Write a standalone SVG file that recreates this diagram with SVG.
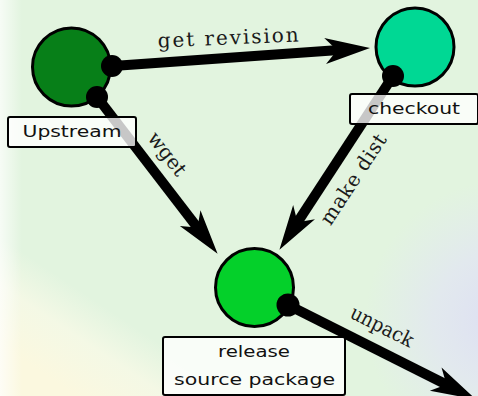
<svg xmlns="http://www.w3.org/2000/svg" width="478" height="396" viewBox="0 0 478 396">
  <defs>
    <linearGradient id="leftEdge" x1="0" y1="0" x2="1" y2="0">
      <stop offset="0" stop-color="#ffffff" stop-opacity="0.7"/>
      <stop offset="1" stop-color="#ffffff" stop-opacity="0"/>
    </linearGradient>
    <linearGradient id="yellow" gradientUnits="userSpaceOnUse" x1="45" y1="375" x2="95" y2="300">
      <stop offset="0" stop-color="#fbf8df" stop-opacity="1"/>
      <stop offset="0.55" stop-color="#f7f9e6" stop-opacity="0.85"/>
      <stop offset="1" stop-color="#f6f9e8" stop-opacity="0"/>
    </linearGradient>
    <radialGradient id="lavender" gradientUnits="userSpaceOnUse" cx="505" cy="320" r="140">
      <stop offset="0" stop-color="#dcdef3" stop-opacity="1"/>
      <stop offset="0.5" stop-color="#e2e5f3" stop-opacity="0.75"/>
      <stop offset="1" stop-color="#e3e7f3" stop-opacity="0"/>
    </radialGradient>
    <marker id="arrow" markerUnits="userSpaceOnUse" orient="auto" viewBox="-20 -20 60 40" markerWidth="60" markerHeight="40" refX="0" refY="0" overflow="visible">
      <path d="M31,0 L-14,-13 L-2,0 L-14,13 Z" fill="#000"/>
    </marker>
    <style>
      .edge { fill: none; stroke: #000; stroke-width: 10; marker-end: url(#arrow); }
      .dot { fill: #000; }
      .node { stroke: #000; stroke-width: 3; }
      .box { fill: #ffffff; fill-opacity: 0.78; stroke: #000; stroke-width: 2; }
      .lbl { font-family: "DejaVu Sans", "Liberation Sans", sans-serif; font-size: 16px; fill: #111; text-anchor: middle; }
      .elbl { font-family: "DejaVu Serif", "Liberation Serif", serif; font-size: 20px; fill: #1a1a1a; text-anchor: middle; }
    </style>
  </defs>

  <!-- background -->
  <rect x="0" y="0" width="478" height="396" fill="#e2f4df"/>
  <rect x="0" y="0" width="478" height="396" fill="url(#yellow)"/>
  <rect x="0" y="0" width="478" height="396" fill="url(#lavender)"/>
  <rect x="0" y="0" width="22" height="396" fill="url(#leftEdge)"/>

  <!-- connectors -->
  <g id="connectors">
    <path class="edge" d="M113,66 L339.1,50.1"/>
    <path class="edge" d="M97,97 L198.7,229.2"/>
    <path class="edge" d="M393,76 L296.4,223.9"/>
    <path class="edge" d="M288,305 L448.2,385.5"/>
    <text class="elbl" transform="translate(228.5,44.5) rotate(-2.5)" textLength="141" lengthAdjust="spacing">get revision</text>
    <text class="elbl" transform="translate(162,158) rotate(52.4)">wget</text>
    <text class="elbl" transform="translate(359,183) rotate(-56.8)" textLength="104" lengthAdjust="spacing">make dist</text>
    <text class="elbl" transform="translate(379,332.5) rotate(26.7)" textLength="68" lengthAdjust="spacingAndGlyphs">unpack</text>
  </g>

  <!-- nodes -->
  <g id="upstream">
    <circle class="node" cx="71.5" cy="67" r="39" fill="#077f18"/>
    <rect class="box" x="8" y="117" width="128" height="30" rx="2"/>
    <text class="lbl" x="72" y="137" textLength="99" lengthAdjust="spacingAndGlyphs">Upstream</text>
  </g>
  <g id="checkout">
    <circle class="node" cx="415" cy="47" r="39" fill="#00d894"/>
    <rect class="box" x="350" y="94" width="128" height="30" rx="2"/>
    <text class="lbl" x="414" y="114" textLength="92" lengthAdjust="spacingAndGlyphs">checkout</text>
  </g>
  <g id="release">
    <circle class="node" cx="254.5" cy="287.5" r="39" fill="#04d02a"/>
    <rect class="box" x="163" y="337" width="182" height="58" rx="2"/>
    <text class="lbl" x="254" y="357" textLength="72" lengthAdjust="spacingAndGlyphs">release</text>
    <text class="lbl" x="254.5" y="385" textLength="161" lengthAdjust="spacingAndGlyphs">source package</text>
  </g>

  <!-- connector end dots -->
  <g id="connector-ends">
    <circle class="dot" cx="112" cy="66" r="11"/>
    <circle class="dot" cx="97" cy="97" r="11"/>
    <circle class="dot" cx="393" cy="76" r="11"/>
    <circle class="dot" cx="288" cy="305" r="11.5"/>
  </g>
</svg>
